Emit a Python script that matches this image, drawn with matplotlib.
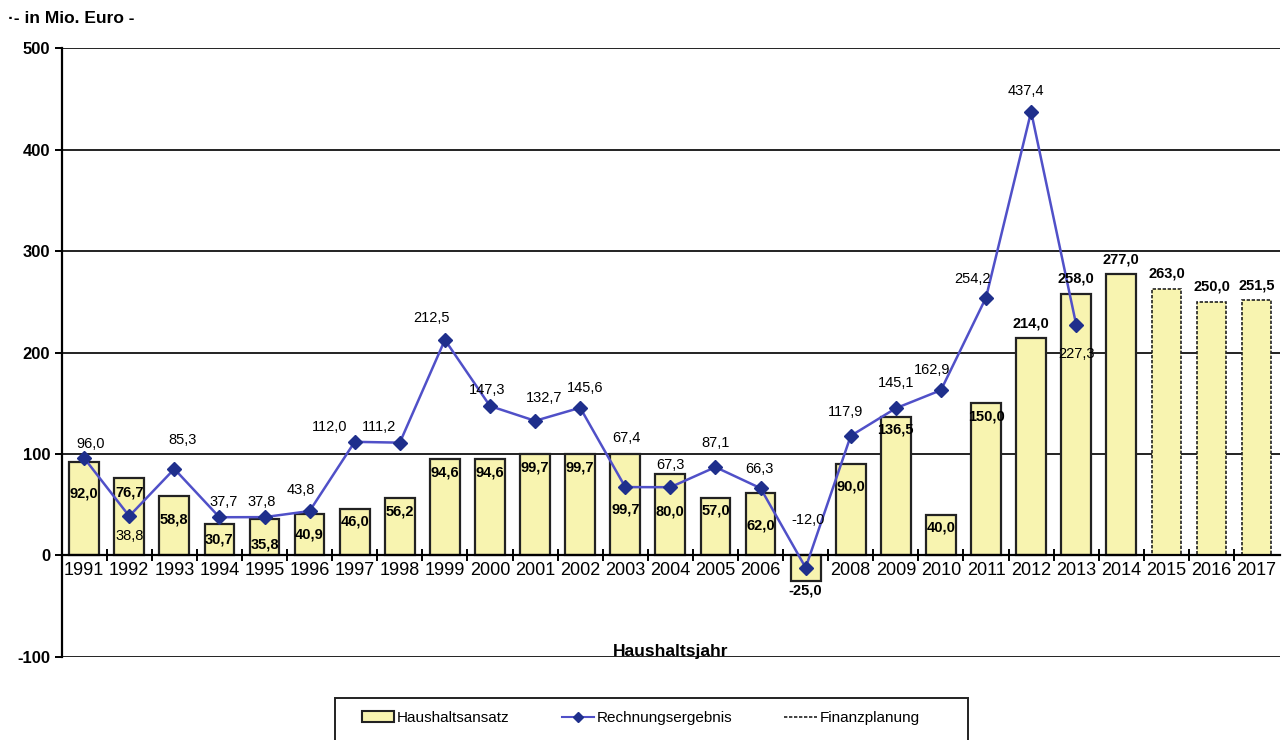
import matplotlib.pyplot as plt
import numpy as np
from matplotlib.lines import Line2D
from matplotlib.patches import Patch, Rectangle

plt.rcParams['font.family'] = ['Liberation Sans', 'DejaVu Sans']

years = [1991, 1992, 1993, 1994, 1995, 1996, 1997, 1998, 1999, 2000,
         2001, 2002, 2003, 2004, 2005, 2006, 2007, 2008, 2009, 2010,
         2011, 2012, 2013, 2014, 2015, 2016, 2017]
haushaltsansatz = [92.0, 76.7, 58.8, 30.7, 35.8, 40.9, 46.0, 56.2, 94.6, 94.6,
                   99.7, 99.7, 99.7, 80.0, 57.0, 62.0, -25.0, 90.0, 136.5, 40.0,
                   150.0, 214.0, 258.0, 277.0, 263.0, 250.0, 251.5]
rechnungsergebnis = [96.0, 38.8, 85.3, 37.7, 37.8, 43.8, 112.0, 111.2, 212.5, 147.3,
                     132.7, 145.6, 67.4, 67.3, 87.1, 66.3, -12.0, 117.9, 145.1, 162.9,
                     254.2, 437.4, 227.3]
finanzplanung_ab = 2015
year_labels = [str(y) if y != 2007 else "" for y in years]

def fmt(v):
    return f"{v:.1f}".replace(".", ",")

# label placement (pixel offsets of the label centre)
bar_lbl_dy = {1991: -31, 1993: -24, 1995: -25, 1996: -21, 2003: -55,
              2004: -37, 2006: -33, 2008: -22, 1992: -15, 1994: -15}
line_lbl_off = {1991: (6, 14), 1992: (0, -20), 1993: (8, 29), 1994: (4, 15),
                1995: (-3, 15), 1996: (-9, 21), 1997: (-25, 15), 1998: (-21, 16),
                1999: (-13, 22), 2000: (-3, 16), 2001: (9, 23), 2002: (5, 20),
                2003: (1, 49), 2004: (0, 22), 2005: (0, 24), 2006: (-1, 19),
                2007: (2, 48), 2008: (-5, 24), 2009: (0, 25), 2010: (-9, 20),
                2011: (-14, 19), 2012: (-5, 21), 2013: (0, -29)}

fig = plt.figure(figsize=(12.87, 7.40), dpi=100)
ax = fig.add_axes([0.0482, 0.1122, 0.9464, 0.8228])

x = np.arange(len(years))
bar_color = "#f8f4b0"
for i, v in enumerate(haushaltsansatz):
    plan = years[i] >= finanzplanung_ab
    ax.bar(x[i], v, width=0.66, color=bar_color, edgecolor="#222222",
           linewidth=1.2 if plan else 1.6, linestyle=(0, (2, 1)) if plan else "-",
           zorder=2)

xl = x[:len(rechnungsergebnis)]
ax.plot(xl, rechnungsergebnis, color="#5050c8", linewidth=1.8, zorder=3)
ax.plot(xl, rechnungsergebnis, linestyle="none", marker="D", markersize=7,
        color="#1f2f8c", zorder=4)

# bar labels
for i, v in enumerate(haushaltsansatz):
    if v < 0:
        dy = -10
    elif v > 200:
        dy = 15
    else:
        dy = bar_lbl_dy.get(years[i], -13)
    ax.annotate(fmt(v), (x[i], v), xytext=(0, dy), textcoords="offset pixels",
                ha="center", va="center", fontsize=10.5, fontweight="bold", zorder=5)

# line labels
for i, v in enumerate(rechnungsergebnis):
    ox, oy = line_lbl_off.get(years[i], (0, 20))
    ax.annotate(fmt(v), (xl[i], v), xytext=(ox, oy), textcoords="offset pixels",
                ha="center", va="center", fontsize=10.5, zorder=5)

ax.set_xlim(-0.49, 26.52)
ax.set_ylim(-100, 500)
ax.set_yticks([-100, 0, 100, 200, 300, 400, 500])
ax.set_yticklabels(["-100", "0", "100", "200", "300", "400", "500"],
                   fontsize=12, fontweight="bold")
ax.yaxis.grid(True, color="#222222", linewidth=1.4)
ax.set_axisbelow(True)

ax.spines["top"].set_visible(False)
ax.spines["right"].set_visible(False)
ax.spines["left"].set_linewidth(1.6)
ax.spines["bottom"].set_position(("data", 0))
ax.spines["bottom"].set_linewidth(1.6)

ax.set_xticks(x)
ax.set_xticklabels(year_labels, fontsize=13)
ax.set_xticks(x[:-1] + 0.5, minor=True)
ax.tick_params(axis="x", which="major", length=0, pad=5)
ax.tick_params(axis="x", which="minor", length=9, width=1.4, direction="inout")
ax.tick_params(axis="y", length=5, width=1.4)

ax.text(0.5, -0.004, "Haushaltsjahr", transform=ax.transAxes, ha="center",
        va="bottom", fontsize=12.5, fontweight="bold")
fig.text(0.006, 0.975, "·- in Mio. Euro -", ha="left", va="center",
         fontsize=12.5, fontweight="bold")

# legend: frame drawn separately (runs off the bottom edge like in the scan)
fig.patches.append(Rectangle((335 / 1287, -0.02), 633 / 1287, 0.02 + 42 / 740,
                             transform=fig.transFigure, facecolor="white",
                             edgecolor="#222222", linewidth=1.4))
handles = [Patch(facecolor=bar_color, edgecolor="#222222", linewidth=1.5),
           Line2D([], [], color="#5050c8", marker="D", markersize=5,
                  markerfacecolor="#1f2f8c", markeredgecolor="#1f2f8c"),
           Line2D([], [], color="#222222", linestyle=(0, (2, 1)), linewidth=1.2)]
fig.legend(handles, ["Haushaltsansatz", "Rechnungsergebnis", "Finanzplanung"],
           loc="center left", bbox_to_anchor=(362 / 1287, 1 - 718 / 740), ncol=3,
           fontsize=11, frameon=False, borderpad=0, borderaxespad=0,
           handlelength=2.1, handletextpad=0.2, columnspacing=3.4)

fig.savefig("out.png", dpi=100, facecolor="white")
